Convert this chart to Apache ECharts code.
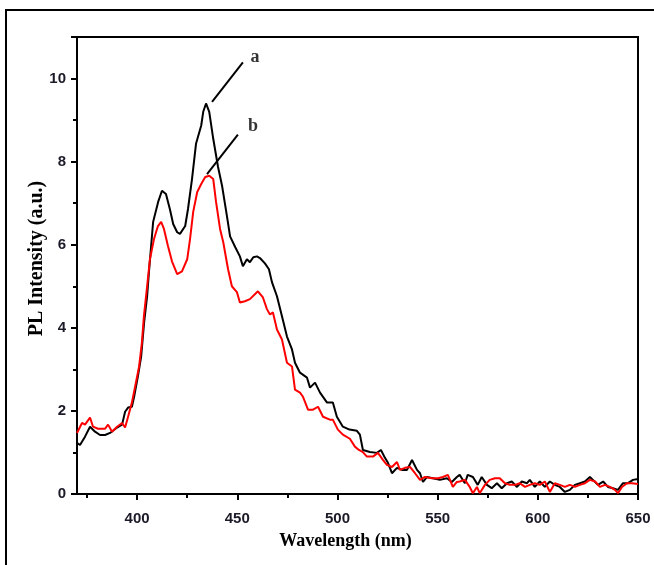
<!DOCTYPE html>
<html>
<head>
<meta charset="utf-8">
<script src="https://cdn.jsdelivr.net/npm/echarts@6/dist/echarts.min.js"></script>
<style>html,body{margin:0;padding:0;background:#fff;}#c{width:654px;height:565px;}</style>
</head>
<body>
<div id="c"></div>
<script>
// Wavelength (nm) and PL intensity for curve a (black)
const blackWl = [370,371.5,374,376.5,379,381.5,384,386.5,390,392.5,394,395.5,397.4,398.5,400.4,402,403.5,405,406,407,408,410.5,412.4,414.4,416.4,418,420,421.4,424,425.4,427.4,429.4,432,433,434.4,436,438,440.4,442.4,444.8,446.4,449,451.3,452.8,454.8,456.3,458,459.8,461.3,463.8,465.8,467.3,469.8,472.3,474.8,477.3,478.8,481.3,484.8,486.3,488.8,491.3,494.8,497.7,499.7,502.7,506,509.7,511.2,512.7,516.2,519.7,521.7,523.7,525.2,527.2,529.7,532.2,534.7,537.2,539.7,541.2,542.7,544.7,547.6,551.1,554.6,557.1,559.6,561,563.6,565,567.6,570,572,574.6,577,579.6,582,584.6,587,589.6,592,594.6,596,598.5,601,603.5,606,608.5,611,613.5,616,618.5,621,623.5,626,627.5,630,632.6,635,637.5,640,642.5,645,647.5,650];
const blackVals = [1.23,1.18,1.38,1.62,1.5,1.42,1.42,1.47,1.6,1.67,1.98,2.08,2.1,2.34,2.83,3.3,4.13,4.76,5.4,5.97,6.55,7.03,7.3,7.22,6.85,6.5,6.3,6.26,6.45,6.86,7.58,8.43,8.87,9.2,9.4,9.2,8.55,7.87,7.42,6.7,6.2,5.94,5.72,5.48,5.65,5.58,5.7,5.72,5.68,5.55,5.41,5.1,4.76,4.28,3.79,3.48,3.16,2.92,2.8,2.56,2.68,2.44,2.2,2.2,1.86,1.62,1.55,1.52,1.43,1.06,1.01,0.99,1.06,0.87,0.75,0.5,0.63,0.58,0.58,0.82,0.58,0.5,0.29,0.41,0.38,0.34,0.38,0.29,0.41,0.46,0.26,0.46,0.41,0.22,0.41,0.22,0.14,0.26,0.14,0.26,0.3,0.17,0.3,0.26,0.34,0.17,0.3,0.17,0.3,0.22,0.17,0.05,0.1,0.22,0.26,0.3,0.41,0.34,0.22,0.3,0.17,0.14,0.1,0.26,0.26,0.34,0.36];
// Wavelength (nm) and PL intensity for curve b (red)
const redWl = [370,372.5,374,376.5,378,380.5,384,385.5,387.5,390,392.5,394,395.5,397.4,399,401,402.4,403.4,405,406.4,408.4,410.4,412,413.4,415.4,417.4,420,422.4,425,426.4,428,430,432,434,436,438,439.4,441.4,443,445.4,447.3,449.8,451.3,453.8,456.3,460.3,462.8,464.8,466.3,467.8,469.8,472.3,474.8,477.3,478.8,481.3,482.8,485.3,487.8,490.3,492.8,496.2,497.7,500.2,502.7,506.2,508.7,510.7,512.7,514.7,517.7,520.2,522.7,524.7,527.2,529.7,531.2,533.7,536.2,538.7,541.2,543.7,547.1,550.2,552.6,555.1,557.6,559.6,561,563.6,566,567.6,569.6,571,573.6,576,578.6,581,583.6,586,588.6,591,593.6,596,598.5,601,603.5,606,608.5,611,613.5,616,618.5,621,623.5,626,628.6,631,633.5,636,638.5,640,642,644.5,647,650];
const redVals = [1.47,1.71,1.67,1.84,1.62,1.57,1.57,1.67,1.5,1.62,1.71,1.6,1.86,2.2,2.58,3.07,3.65,4.28,5.0,5.65,6.13,6.45,6.55,6.38,5.97,5.6,5.29,5.36,5.65,6.13,6.79,7.27,7.46,7.63,7.66,7.58,7.03,6.38,6.06,5.41,5.0,4.86,4.61,4.64,4.69,4.88,4.73,4.45,4.32,4.37,3.96,3.72,3.16,3.07,2.51,2.44,2.34,2.03,2.03,2.1,1.86,1.79,1.79,1.55,1.43,1.33,1.14,1.06,1.01,0.9,0.9,0.99,0.82,0.7,0.65,0.77,0.58,0.63,0.65,0.5,0.34,0.41,0.38,0.38,0.41,0.46,0.17,0.29,0.3,0.34,0.17,0.02,0.17,0.02,0.22,0.34,0.38,0.38,0.26,0.22,0.22,0.26,0.17,0.22,0.26,0.22,0.3,0.05,0.26,0.22,0.17,0.22,0.17,0.22,0.26,0.34,0.3,0.17,0.22,0.17,0.1,0.02,0.17,0.26,0.26,0.24];
// Axis ticks
const xMajorTicks = [400,450,500,550,600,650];
const xMinorTicks = [375,425,475,525,575,625];
const yTickLabels = [0,2,4,6,8,10];
// Annotations: label, text position, arrow start, arrow end (data coords)
const annLabels = ['a','b'];
const annTextPos = [[458.8,10.52],[457.8,8.85]];
const annArrowFrom = [[452.8,10.39],[450.3,8.65]];
const annArrowTo = [[437.4,9.44],[434.9,7.7]];

const zip = (xs, ys) => xs.map((x,i)=>[x, ys[i]]);
const chart = echarts.init(document.getElementById('c'));
const tickFont = {fontFamily:'Liberation Sans', fontWeight:'bold', fontSize:15, color:'#1a1a28'};
chart.setOption({
  animation:false,
  backgroundColor:'#fff',
  grid:{left:77, top:37, right:16, bottom:71, show:true, borderColor:'#000', borderWidth:2, backgroundColor:'transparent'},
  xAxis:[{
    type:'value', min:370, max:650,
    name:'Wavelength (nm)', nameLocation:'middle', nameGap:38, nameMoveOverlap:false,
    nameTextStyle:{fontFamily:'Liberation Serif', fontWeight:'bold', fontSize:18, color:'#000', padding:[0,24,0,0]},
    axisLine:{show:true, lineStyle:{color:'#000', width:2}},
    axisTick:{show:true, customValues:xMajorTicks, length:6, lineStyle:{color:'#000', width:2}},
    axisLabel:{customValues:xMajorTicks, margin:17, ...tickFont},
    splitLine:{show:false}
  },{
    type:'value', min:370, max:650, position:'bottom',
    axisLine:{show:false},
    axisTick:{show:true, customValues:xMinorTicks, length:4, lineStyle:{color:'#000', width:2}},
    axisLabel:{show:false},
    splitLine:{show:false}
  }],
  yAxis:{
    type:'value', min:0, max:11, interval:2,
    name:'PL Intensity (a.u.)', nameLocation:'middle', nameGap:30, nameMoveOverlap:false,
    nameTextStyle:{fontFamily:'Liberation Serif', fontWeight:'bold', fontSize:20, color:'#000', padding:[0,0,0,14]},
    axisLine:{show:true, lineStyle:{color:'#000', width:2}},
    axisTick:{show:true, length:6, lineStyle:{color:'#000', width:2}},
    minorTick:{show:true, splitNumber:2, length:4, lineStyle:{color:'#000', width:2}},
    axisLabel:{margin:11, customValues:yTickLabels, ...tickFont},
    splitLine:{show:false}
  },
  graphic:[{type:'rect', shape:{x:6, y:10, width:700, height:620}, style:{fill:'none', stroke:'#000', lineWidth:2}, silent:true, z:-1}],
  series:[
    {type:'line', name:'a', data:zip(blackWl, blackVals), showSymbol:false, lineStyle:{color:'#000', width:2}, itemStyle:{color:'#000'}, z:3,
     markLine:{silent:true, symbol:['none','arrow'], symbolSize:[0,10], label:{show:false}, lineStyle:{color:'#000', width:2, type:'solid'},
       data: annArrowFrom.map((f,i)=>[{coord:f},{coord:annArrowTo[i]}])}},
    {type:'line', name:'b', data:zip(redWl, redVals), showSymbol:false, lineStyle:{color:'#ff0000', width:2}, itemStyle:{color:'#ff0000'}, z:4},
    {type:'scatter', data:annTextPos.map((p,i)=>({value:p, name:annLabels[i]})), symbolSize:0, silent:true,
     label:{show:true, position:'inside', formatter:'{b}', fontFamily:'Liberation Serif', fontWeight:'bold', fontSize:18, color:'#000'}}
  ]
});
</script>
</body>
</html>
